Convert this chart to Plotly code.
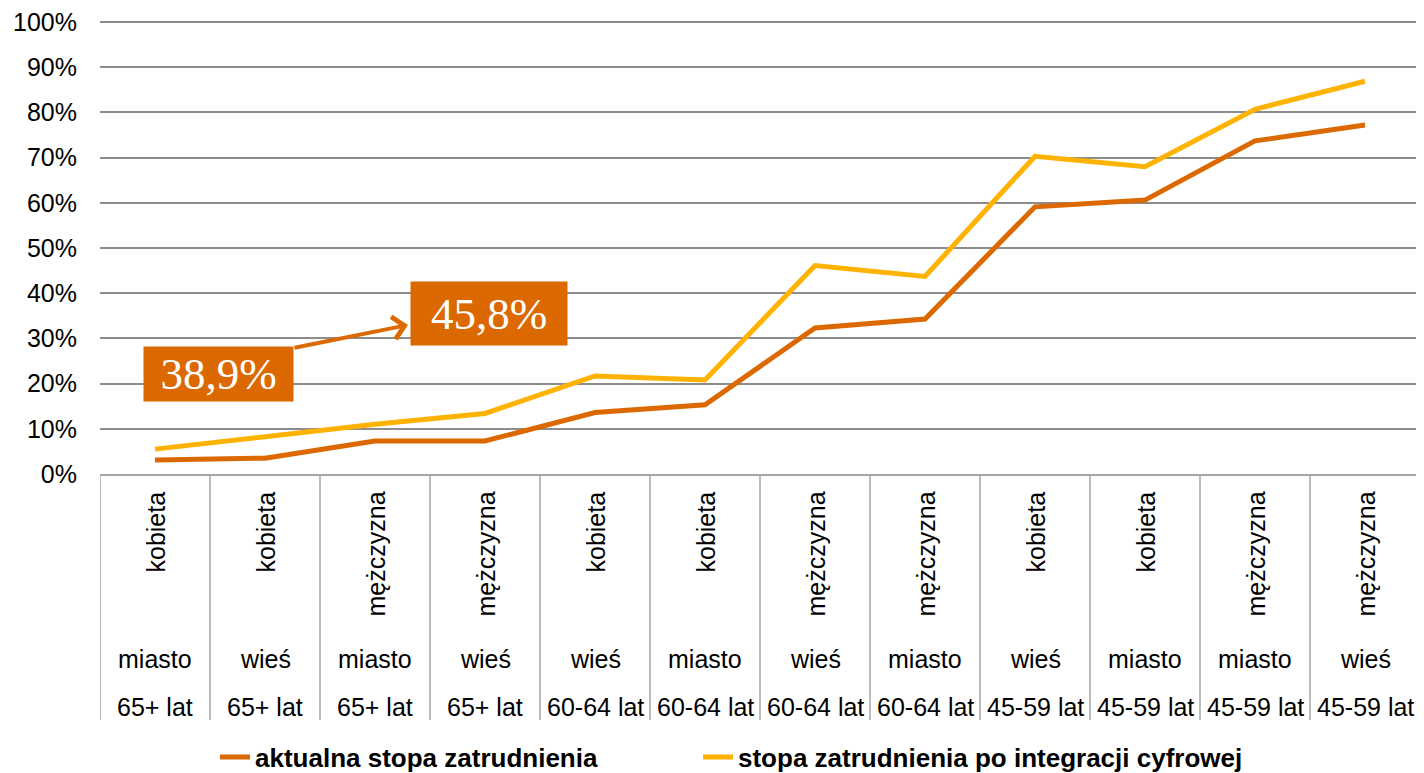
import plotly.graph_objects as go

# ---- data ----
gender = ["kobieta", "kobieta", "mężczyzna", "mężczyzna", "kobieta", "kobieta",
          "mężczyzna", "mężczyzna", "kobieta", "kobieta", "mężczyzna", "mężczyzna"]
location = ["miasto", "wieś", "miasto", "wieś", "wieś", "miasto",
            "wieś", "miasto", "wieś", "miasto", "miasto", "wieś"]
age = ["65+ lat", "65+ lat", "65+ lat", "65+ lat", "60-64 lat", "60-64 lat",
       "60-64 lat", "60-64 lat", "45-59 lat", "45-59 lat", "45-59 lat", "45-59 lat"]
aktualna = [0.031, 0.035, 0.073, 0.073, 0.136, 0.153, 0.323, 0.343, 0.591, 0.606, 0.737, 0.772]
cyfrowa = [0.055, 0.082, 0.110, 0.134, 0.217, 0.208, 0.461, 0.437, 0.703, 0.680, 0.807, 0.869]
series_names = ["aktualna stopa zatrudnienia", "stopa zatrudnienia po integracji cyfrowej"]
callouts = ["38,9%", "45,8%"]

ORANGE = "#DC6900"
YELLOW = "#FFB300"
GRID = "#8C8C8C"
SEP = "#A6A6A6"
SANS = "Liberation Sans, Arial"

# page body has an 8px margin; compensate so the chart sits like the reference
OFF = 8
W, H = 1424 - OFF, 773 - OFF
ML, MR, MT, MB = 100 - OFF, 4, 18 - OFF, 773 - 474
PW = W - ML - MR
PH = H - MT - MB
YTOP = 1 + 4 / 452  # a little headroom so the 100% grid line is drawn


def px(xs):  # screen x -> paper
    return (xs - OFF - ML) / PW


def py(ys):  # screen y -> paper
    return (H - MB - (ys - OFF)) / PH


idx = list(range(len(gender)))

fig = go.Figure()
fig.add_trace(go.Scatter(x=idx, y=aktualna, mode="lines", name=series_names[0],
                         line=dict(color=ORANGE, width=5), legend="legend"))
fig.add_trace(go.Scatter(x=idx, y=cyfrowa, mode="lines", name=series_names[1],
                         line=dict(color=YELLOW, width=5), legend="legend2"))

annotations = []
shapes = []
for i in idx:
    annotations.append(dict(x=i, y=py(490), xref="x", yref="paper", text=gender[i],
                            textangle=-90, showarrow=False, xanchor="center", yanchor="top",
                            font=dict(family=SANS, size=25, color="#000")))
    annotations.append(dict(x=i, y=py(659), xref="x", yref="paper", text=location[i],
                            showarrow=False, xanchor="center", yanchor="middle",
                            font=dict(family=SANS, size=25, color="#000")))
    annotations.append(dict(x=i, y=py(707), xref="x", yref="paper", text=age[i],
                            showarrow=False, xanchor="center", yanchor="middle",
                            font=dict(family=SANS, size=25, color="#000")))
for k in range(len(gender) + 1):
    shapes.append(dict(type="line", xref="x", yref="paper", x0=k - 0.5, x1=k - 0.5,
                       y0=0, y1=py(720), line=dict(color=SEP, width=1.5)))

# callout boxes
annotations.append(dict(x=px(218.5), y=py(374), xref="paper", yref="paper", text=callouts[0],
                        showarrow=False, xanchor="center", yanchor="middle",
                        width=149, height=54, bgcolor=ORANGE, borderpad=0,
                        font=dict(family="Liberation Serif, serif", size=45, color="white")))
annotations.append(dict(x=px(489), y=py(313.5), xref="paper", yref="paper", text=callouts[1],
                        showarrow=False, xanchor="center", yanchor="middle",
                        width=156, height=63, bgcolor=ORANGE, borderpad=0,
                        font=dict(family="Liberation Serif, serif", size=45, color="white")))
# arrow between boxes
annotations.append(dict(x=px(408), y=py(325), xref="paper", yref="paper", text="",
                        showarrow=True, ax=293 - 408, ay=348 - 325, axref="pixel", ayref="pixel",
                        arrowhead=4, arrowsize=1.1, arrowwidth=4, arrowcolor=ORANGE))

legend_font = dict(family=SANS, size=26, color="#000", weight="bold")
leg_y = (H - (757 - OFF)) / H
fig.update_layout(
    width=W, height=H,
    margin=dict(l=ML, r=MR, t=MT, b=MB, autoexpand=False),
    paper_bgcolor="white", plot_bgcolor="white",
    xaxis=dict(range=[-0.5, len(gender) - 0.5], showticklabels=False, showgrid=False,
               zeroline=False, showline=True, linecolor=SEP, linewidth=1.5, fixedrange=True,
               automargin=False),
    yaxis=dict(range=[0, YTOP], tick0=0, dtick=0.1, tickformat=".0%", showgrid=True,
               gridcolor=GRID, gridwidth=1.5, zeroline=False, showline=False,
               ticks="", ticklabelstandoff=22, ticklabeloverflow="allow", automargin=False,
               tickfont=dict(family=SANS, size=25, color="#000")),
    showlegend=True,
    legend=dict(orientation="h", xref="container", yref="container",
                x=(255 - 48) / W, y=leg_y, xanchor="left", yanchor="middle",
                font=legend_font, bgcolor="rgba(0,0,0,0)"),
    legend2=dict(orientation="h", xref="container", yref="container",
                 x=(738 - 48) / W, y=leg_y, xanchor="left", yanchor="middle",
                 font=legend_font, bgcolor="rgba(0,0,0,0)"),
    annotations=annotations,
    shapes=shapes,
)

fig.write_html("out.html")
